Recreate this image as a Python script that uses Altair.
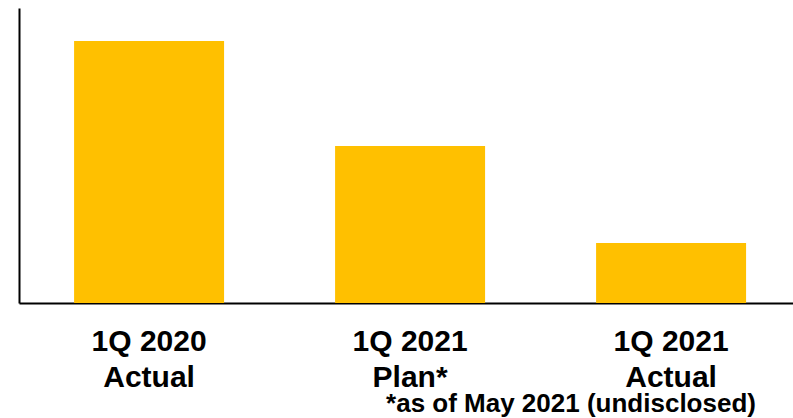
import altair as alt
import pandas as pd

categories = ["1Q 2020\nActual", "1Q 2021\nPlan*", "1Q 2021\nActual"]
values = [262, 157, 60]
footnote = "*as of May 2021 (undisclosed)"

df = pd.DataFrame({"cat": categories, "val": values})

chart = alt.Chart(df, title=alt.TitleParams(
    text=footnote, orient="bottom", anchor="middle", dx=165, offset=-1,
    font="Liberation Sans", fontSize=26, fontWeight="bold", color="black"
)).mark_bar(color="#FFC000").encode(
    x=alt.X("cat:N", sort=categories,
            scale=alt.Scale(paddingInner=0.4253, paddingOuter=0.1954, align=0.54),
            axis=alt.Axis(title=None, labelAngle=0, ticks=False, grid=False,
                          labelExpr="split(datum.label, '\\n')",
                          labelFont="Liberation Sans", labelFontSize=30,
                          labelFontWeight="bold", labelColor="black",
                          labelLineHeight=36, labelPadding=23,
                          domainColor="black", domainWidth=2)),
    y=alt.Y("val:Q", scale=alt.Scale(domain=[0, 295], nice=False),
            axis=alt.Axis(title=None, labels=False, ticks=False, grid=False,
                          domainColor="black", domainWidth=2)),
).properties(
    width=774, height=295,
    padding={"left": 19, "top": 8, "right": 0, "bottom": 115},
    autosize=alt.AutoSizeParams(type="none"),
).configure_view(stroke=None)

chart.save("out.html", embed_options={"renderer": "svg", "actions": False})
